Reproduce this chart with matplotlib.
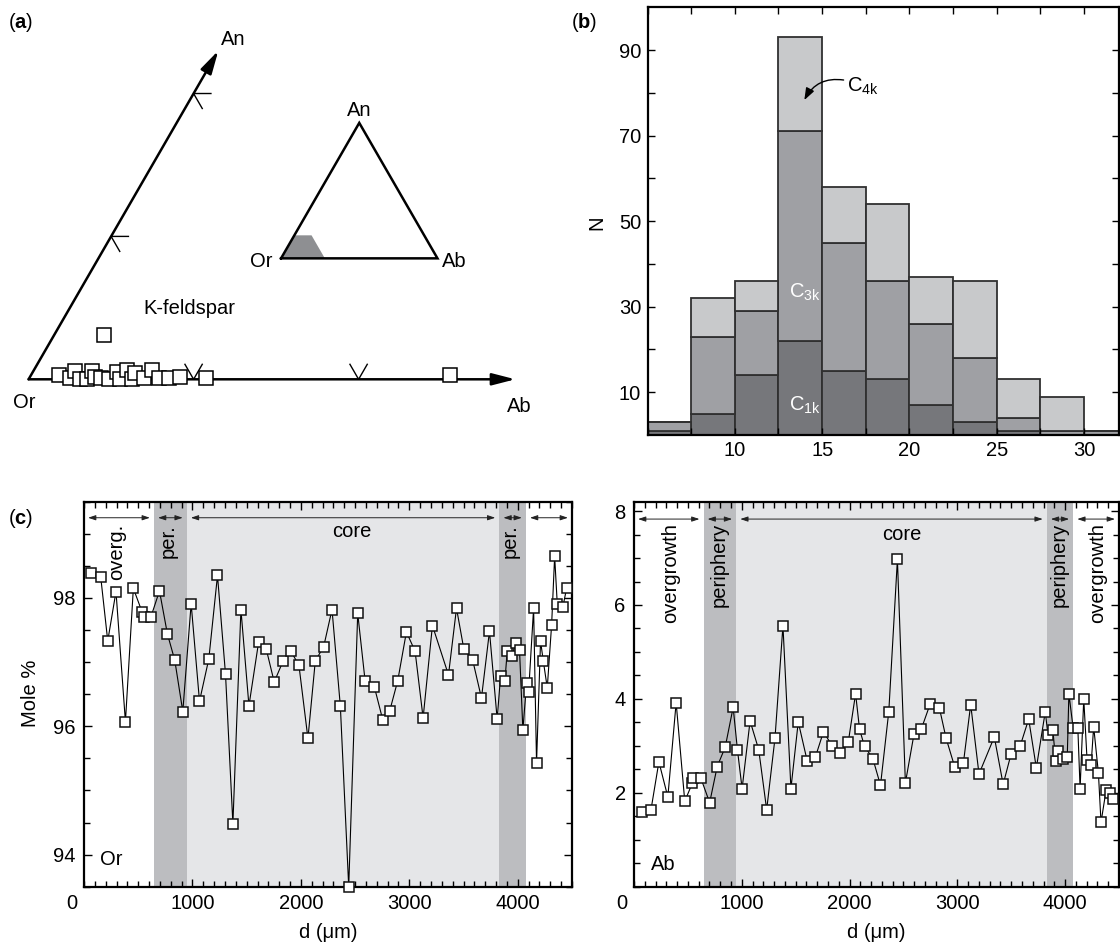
import numpy as np
import matplotlib
matplotlib.use('Agg')
import matplotlib.pyplot as plt
from matplotlib.patches import Polygon, FancyArrowPatch
from matplotlib.ticker import MultipleLocator, FixedLocator

plt.rcParams['font.family'] = ['Liberation Sans', 'DejaVu Sans']
plt.rcParams['mathtext.fontset'] = 'custom'
plt.rcParams['mathtext.rm'] = 'Liberation Sans'
plt.rcParams['mathtext.it'] = 'Liberation Sans:italic'
plt.rcParams['mathtext.bf'] = 'Liberation Sans:bold'

FS = 14.5

# ---------------- data ----------------
# (a) K-feldspar compositions (mole % Ab, An)
kfs_ab = [1.72, 2.48, 2.53, 3.13, 3.54, 3.54, 3.95, 4.35, 4.85, 5.09, 5.56, 5.64,
          6.27, 6.26, 6.97, 7.15, 7.88, 8.48, 9.12, 10.71, 25.4, 3.0]
kfs_an = [0.28, 0.09, 0.61, 0.0, 0.0, 0.61, 0.19, 0.07, 0.0, 0.54, 0.0, 0.65,
          0.0, 0.42, 0.07, 0.65, 0.07, 0.07, 0.14, 0.07, 0.3, 3.1]
ab_axis_max = 29.5
an_axis_max = 23.0
tern_ticks = [10, 20]
field_ab = [0, 28, 11, 0]      # K-feldspar field in inset ternary
field_an = [0, 0, 17, 17]

# (b) stacked histogram
bin_edges = [5, 7.5, 10, 12.5, 15, 17.5, 20, 22.5, 25, 27.5, 30, 32.5]
n_c1k = [1, 5, 14, 22, 15, 13, 7, 3, 1, 0, 0]
n_c3k = [2, 18, 15, 49, 30, 23, 19, 15, 3, 1, 1]
n_c4k = [0, 9, 7, 22, 13, 18, 11, 18, 9, 8, 0]

# (c) profiles
or_d = [62, 154, 219, 295, 382, 455, 536, 554, 616, 696, 769, 837, 911, 988, 1065,
        1151, 1231, 1305, 1373, 1447, 1521, 1610, 1681, 1754, 1834, 1908, 1982,
        2065, 2133, 2210, 2287, 2364, 2441, 2524, 2592, 2678, 2755, 2819, 2893,
        2973, 3053, 3127, 3213, 3361, 3435, 3503, 3583, 3665, 3739, 3810,
        3841, 3881, 3903, 3946, 3982, 4016, 4047, 4081, 4100, 4146, 4173, 4210,
        4235, 4272, 4312, 4340, 4364, 4416, 4450]
or_val = [98.39, 98.33, 97.33, 98.10, 96.07, 98.15, 97.78, 97.70, 97.70, 98.11,
          97.44, 97.03, 96.23, 97.91, 96.39, 97.05, 98.35, 96.81, 94.48, 97.82,
          96.32, 97.31, 97.20, 96.69, 97.01, 97.17, 96.95,
          95.81, 97.02, 97.24, 97.82, 96.31, 93.50, 97.76, 96.71, 96.61, 96.10,
          96.24, 96.71, 97.47, 97.17, 96.13, 97.57, 96.80, 97.84, 97.20, 97.04,
          96.44, 97.48, 96.11,
          96.78, 96.70, 97.18, 97.10, 97.30, 97.19, 95.94, 96.67, 96.54, 97.84,
          95.43, 97.33, 97.02, 96.60, 97.58, 98.65, 97.91, 97.86, 98.15]
ab_d = [77, 157, 231, 314, 391, 471, 542, 548, 619, 702, 772, 846, 920, 960, 1003,
        1077, 1157, 1231, 1308, 1382, 1456, 1524, 1607, 1684, 1758, 1841, 1908,
        1988, 2056, 2093, 2139, 2216, 2287, 2364, 2444, 2518, 2598, 2666, 2749,
        2834, 2896, 2976, 3056, 3124, 3201, 3343, 3425, 3498, 3582, 3662, 3733,
        3816, 3841, 3887, 3912, 3933, 3980, 4020, 4035, 4075, 4118, 4139, 4173,
        4204, 4241, 4265, 4309, 4333, 4380, 4414, 4448]
ab_val = [1.60, 1.63, 2.66, 1.91, 3.92, 1.82, 2.21, 2.32, 2.32, 1.79, 2.56, 2.97,
          3.82, 2.91, 2.09, 3.53, 2.92, 1.64, 3.16, 5.56, 2.09, 3.51, 2.68, 2.77,
          3.30, 2.99, 2.85, 3.08,
          4.11, 3.35, 2.99, 2.73, 2.16, 3.73, 6.97, 2.21, 3.25, 3.36, 3.90, 3.80,
          3.16, 2.55, 2.63, 3.88, 2.40, 3.19, 2.18, 2.82, 2.99, 3.57, 2.53, 3.73,
          3.23, 3.33,
          2.67, 2.90, 2.73, 2.77, 4.11, 3.37, 3.38, 2.09, 4.00, 2.69, 2.59, 3.41,
          2.42, 1.37, 2.05, 2.00, 1.86]
zone_edges = [0, 645, 948, 3830, 4075, 4500]
or_zone_labels = ['overg.', 'per.', 'core', 'per.', '']
ab_zone_labels = ['overgrowth', 'periphery', 'core', 'periphery', 'overgrowth']
or_label_x = [302, 779, 2471, 3934, None]
ab_label_x = [339, 794, 2481, 3949, 4303]

# ---------------- figure ----------------
W, H = 1120, 947
fig = plt.figure(figsize=(11.2, 9.47), dpi=100)
fig.patch.set_facecolor('white')


def rect(l, t, r, b):
    return [l / W, 1 - b / H, (r - l) / W, (b - t) / H]


S3 = np.sqrt(3) / 2


def tern(ab, an):
    ab = np.asarray(ab, float)
    an = np.asarray(an, float)
    return ab + an / 2.0, an * S3


# ---------- (a) ----------
axa = fig.add_axes(rect(0, 0, 560, 440))
axa.axis('off')
u = 16.5
axa.set_xlim(-28.6 / u, (560 - 28.6) / u)
axa.set_ylim(-(440 - 379.3) / u, 379.3 / u)

arrow_kw = dict(arrowstyle='-|>,head_length=0.7,head_width=0.18', lw=1.8,
                color='k', shrinkA=0, shrinkB=0, mutation_scale=20)
o = tern(0, 0)
tip_ab = tern(ab_axis_max, 0)
tip_an = tern(0, an_axis_max)
axa.annotate('', xy=tip_ab, xytext=o, arrowprops=arrow_kw)
axa.annotate('', xy=tip_an, xytext=o, arrowprops=arrow_kw)
arm = 1.05
for t in tern_ticks:
    x0, y0 = tern(t, 0)
    axa.plot([x0 - 0.5 * arm, x0, x0 + 0.5 * arm], [y0 + S3 * arm, y0, y0 + S3 * arm],
             color='k', lw=1.0)
    x0, y0 = tern(0, t)
    axa.plot([x0 + arm, x0, x0 + 0.5 * arm], [y0, y0, y0 - S3 * arm], color='k', lw=1.0)

xs, ys = tern(kfs_ab, kfs_an)
axa.plot(xs, ys, ls='none', marker='s', ms=9.8, mfc='white', mec='k', mew=1.1,
         zorder=5)

axa.annotate('An', xy=tip_an, xytext=(15, 11), textcoords='offset pixels',
             ha='center', va='center', fontsize=FS)
axa.annotate('Or', xy=o, xytext=(-4, -23), textcoords='offset pixels',
             ha='center', va='center', fontsize=FS)
axa.annotate('Ab', xy=tip_ab, xytext=(4, -27), textcoords='offset pixels',
             ha='center', va='center', fontsize=FS)
axa.text(9.74, 4.30, 'K-feldspar', ha='center', va='center', fontsize=FS)

# inset ternary
X0, Y0, side = 15.30, 7.33, 9.48


def inset(ab, an):
    x, y = tern(ab, an)
    return X0 + side * x / 100.0, Y0 + side * y / 100.0


fx, fy = inset(field_ab, field_an)
axa.add_patch(Polygon(np.column_stack([fx, fy]), closed=True, fc='#8e8f92', ec='none',
                      zorder=2))
tx, ty = inset([0, 100, 0, 0], [0, 0, 100, 0])
axa.plot(tx, ty, color='k', lw=1.8, solid_joinstyle='miter', zorder=3)
axa.annotate('An', xy=inset(0, 100), xytext=(0, 12), textcoords='offset pixels',
             ha='center', va='center', fontsize=FS)
axa.annotate('Or', xy=inset(0, 0), xytext=(-20, -3), textcoords='offset pixels',
             ha='center', va='center', fontsize=FS)
axa.annotate('Ab', xy=inset(100, 0), xytext=(17, -3), textcoords='offset pixels',
             ha='center', va='center', fontsize=FS)

fig.text(8 / W, 1 - 23 / H, r'($\mathbf{a}$)', fontsize=FS, va='center', ha='left')
fig.text(571 / W, 1 - 23 / H, r'($\mathbf{b}$)', fontsize=FS, va='center', ha='left')
fig.text(8 / W, 1 - 518 / H, r'($\mathbf{c}$)', fontsize=FS, va='center', ha='left')

# ---------- (b) ----------
axb = fig.add_axes(rect(647.5, 7.3, 1119, 435))
c_dark, c_med, c_light, ec = '#76777b', '#9fa0a4', '#c8c9cb', '#303030'
lefts = np.array(bin_edges[:-1])
widths = np.diff(bin_edges)
b1 = np.array(n_c1k, float)
b3 = np.array(n_c3k, float)
b4 = np.array(n_c4k, float)
axb.bar(lefts, b1, width=widths, align='edge', color=c_dark, edgecolor=ec, lw=1.3)
axb.bar(lefts, b3, bottom=b1, width=widths, align='edge', color=c_med, edgecolor=ec, lw=1.3)
axb.bar(lefts, b4, bottom=b1 + b3, width=widths, align='edge', color=c_light,
        edgecolor=ec, lw=1.3)
axb.set_xlim(5, 32)
axb.set_ylim(0, 100)
axb.xaxis.set_major_locator(FixedLocator([10, 15, 20, 25, 30]))
axb.xaxis.set_minor_locator(MultipleLocator(2.5))
axb.yaxis.set_major_locator(FixedLocator([10, 30, 50, 70, 90]))
axb.yaxis.set_minor_locator(FixedLocator([20, 40, 60, 80]))
axb.tick_params(which='both', direction='in', top=True, right=True, labelsize=FS,
                width=1.0)
axb.tick_params(which='major', length=5, pad=4.5)
axb.tick_params(which='minor', length=5)
for s in axb.spines.values():
    s.set_linewidth(1.6)
axb.set_ylabel('N', fontsize=FS)
axb.yaxis.set_label_coords(-0.088, 0.496)
axb.text(16.43, 80.2, r'C$_{\mathrm{4k}}$', fontsize=FS, ha='left', va='baseline')
axb.text(14.02, 32.2, r'C$_{\mathrm{3k}}$', fontsize=FS, ha='center', va='baseline',
         color='white')
axb.text(14.02, 5.7, r'C$_{\mathrm{1k}}$', fontsize=FS, ha='center', va='baseline',
         color='white')
axb.annotate('', xy=(13.98, 78.3), xytext=(16.23, 83.0),
             arrowprops=dict(arrowstyle='-|>,head_length=0.6,head_width=0.22',
                             connectionstyle='arc3,rad=0.35', lw=1.0, color='k',
                             shrinkA=0, shrinkB=0, mutation_scale=12))

# ---------- (c) ----------
c_core, c_per = '#e5e6e8', '#bcbdc0'


def profile(ax, d, v, ylim, yticks, arrow_y, label_top, core_y,
            zone_labels, label_x, elem, elem_xy):
    ax.set_xlim(zone_edges[0], zone_edges[-1])
    ax.set_ylim(*ylim)
    ax.axvspan(zone_edges[1], zone_edges[2], color=c_per, lw=0, zorder=0)
    ax.axvspan(zone_edges[2], zone_edges[3], color=c_core, lw=0, zorder=0)
    ax.axvspan(zone_edges[3], zone_edges[4], color=c_per, lw=0, zorder=0)
    gap = 12
    for i in range(len(zone_edges) - 1):
        a = FancyArrowPatch((zone_edges[i] + gap, arrow_y), (zone_edges[i + 1] - gap, arrow_y),
                            arrowstyle='<|-|>,head_length=0.9,head_width=0.3',
                            mutation_scale=5, lw=0.7, color='#222222', zorder=2)
        ax.add_patch(a)
        lab = zone_labels[i]
        if not lab:
            continue
        if lab == 'core':
            ax.text(label_x[i], core_y, lab, ha='center', va='center', fontsize=FS)
        else:
            ax.text(label_x[i], label_top, lab, rotation=90, ha='center', va='top',
                    fontsize=FS)
    ax.plot(d, v, color='k', lw=0.8, marker='s', ms=6.9, mfc='white', mec='#111111',
            mew=1.1, zorder=5, clip_on=False)
    ax.xaxis.set_major_locator(FixedLocator([1000, 2000, 3000, 4000]))
    ax.xaxis.set_minor_locator(MultipleLocator(100))
    ax.yaxis.set_major_locator(FixedLocator(yticks))
    ax.yaxis.set_minor_locator(MultipleLocator(0.5))
    ax.tick_params(which='both', direction='in', top=True, right=True, labelsize=FS,
                   width=1.0)
    ax.tick_params(which='major', length=6)
    ax.tick_params(axis='x', which='major', pad=5)
    ax.tick_params(axis='y', which='major', pad=6)
    ax.tick_params(which='minor', length=4)
    for s in ax.spines.values():
        s.set_linewidth(1.6)
    ax.annotate('0', xy=(0, 0), xycoords='axes fraction', xytext=(-7, -7),
                textcoords='offset pixels', ha='right', va='top', fontsize=FS)
    ax.set_xlabel('d (μm)', fontsize=FS)
    ax.xaxis.set_label_coords(0.5, -0.094)
    ax.text(elem_xy[0], elem_xy[1], elem, ha='center', va='center', fontsize=FS)


axl = fig.add_axes(rect(84, 501.7, 572, 886.7))
profile(axl, or_d, or_val, (93.5, 99.5), [94, 96, 98], 99.25, 99.15, 99.04,
        or_zone_labels, or_label_x, 'Or', (255, 93.93))
axl.set_ylabel('Mole %', fontsize=FS)
axl.yaxis.set_label_coords(-0.090, 0.503)

axr = fig.add_axes(rect(634, 501.7, 1119, 886.7))
profile(axr, ab_d, ab_val, (0, 8.2), [2, 4, 6, 8], 7.83, 7.75, 7.50,
        ab_zone_labels, ab_label_x, 'Ab', (271, 0.47))

fig.savefig('out.png', dpi=100, facecolor='white')
